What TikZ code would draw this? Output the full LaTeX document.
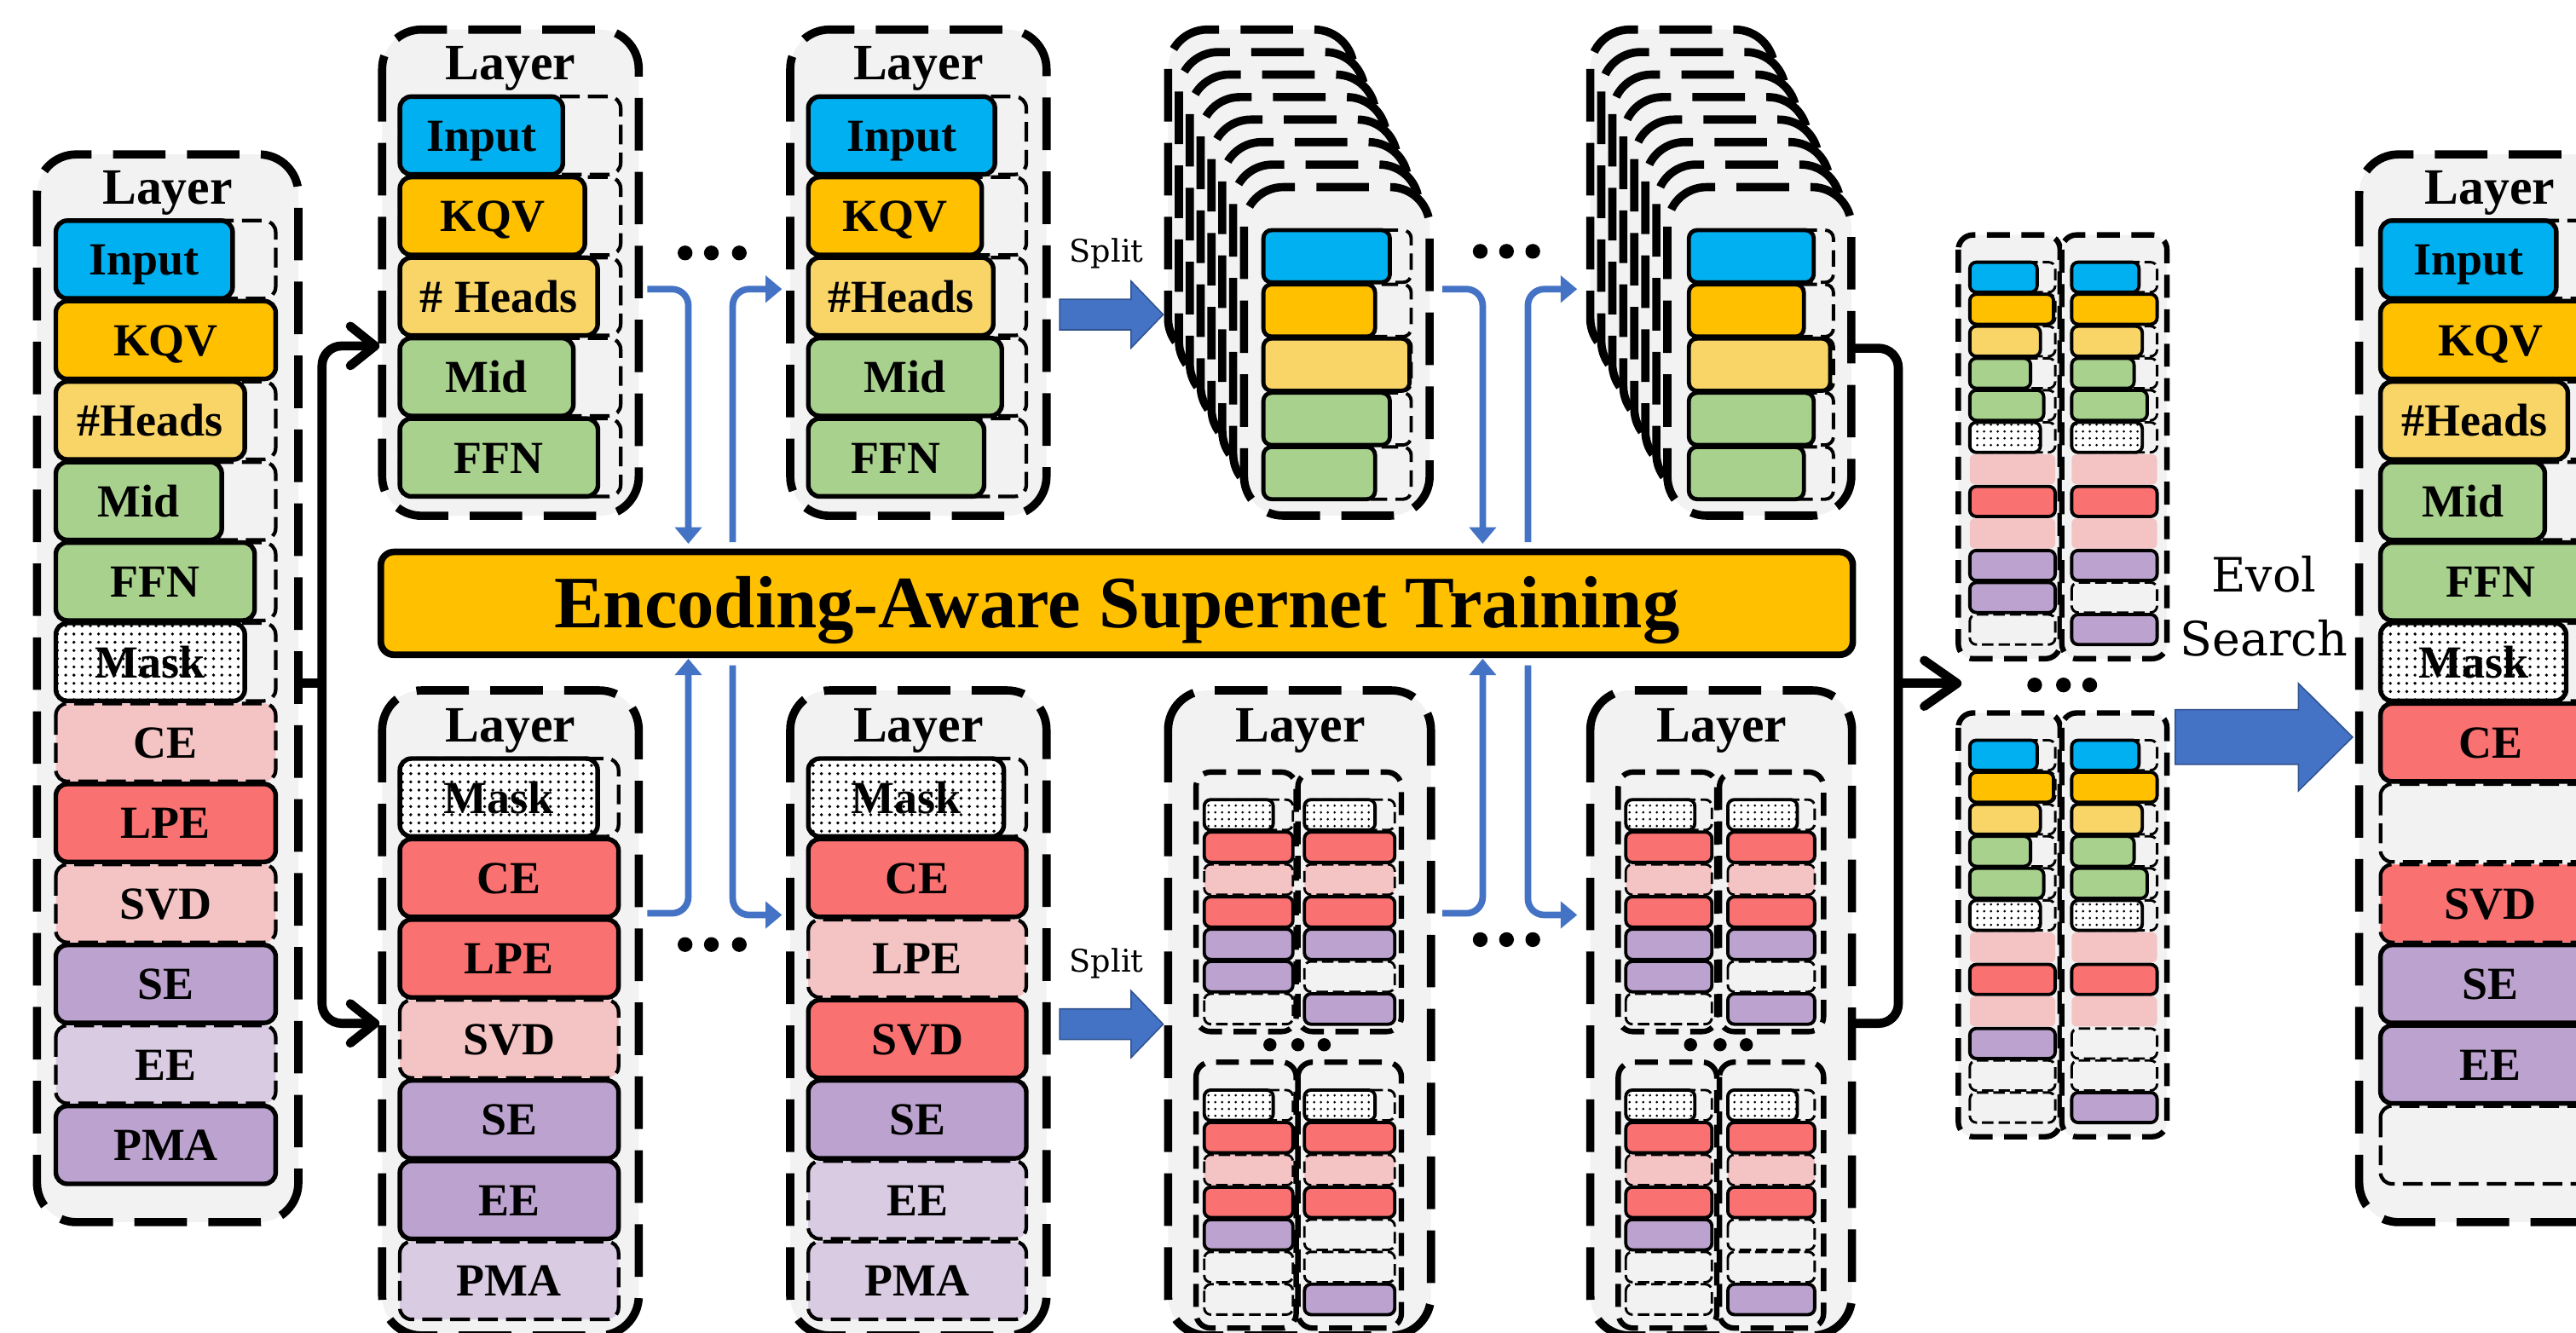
\documentclass[tikz,border=0pt]{standalone}
\usepackage{fontspec}
\setmainfont{Liberation Serif}
\newfontfamily\slabfont{DejaVu Serif}
\usetikzlibrary{arrows.meta,patterns.meta}
\definecolor{cBlue}{HTML}{00B0F0}
\definecolor{cOrange}{HTML}{FFC000}
\definecolor{cYellow}{HTML}{F9D567}
\definecolor{cGreen}{HTML}{A9D18E}
\definecolor{cRed}{HTML}{FA7171}
\definecolor{cPink}{HTML}{F4C3C3}
\definecolor{cPurple}{HTML}{BCA3CF}
\definecolor{cLav}{HTML}{D9CBE2}
\definecolor{cBg}{HTML}{F2F2F2}
\definecolor{cArrow}{HTML}{4472C4}
\definecolor{cArrowD}{HTML}{2F528F}
\tikzset{
  outer/.style={draw, fill=cBg, line width=5pt, dash pattern=on 32pt off 13pt, rounded corners=24pt},
  slot/.style={draw, line width=2.2pt, dash pattern=on 12pt off 5pt, rounded corners=7pt},
  sol/.style={draw, line width=2.8pt, rounded corners=7pt, fill=#1},
  dsh/.style={draw, line width=2.2pt, dash pattern=on 12pt off 5pt, rounded corners=7pt, fill=#1},
  dotb/.style={draw, line width=2.8pt, rounded corners=7pt, preaction={fill=white}, pattern={Dots[distance=5pt, radius=1pt]}},
  fsol/.style={draw, line width=2.5pt, rounded corners=5pt, fill=#1},
  fslot/.style={draw, line width=2pt, dash pattern=on 10pt off 5pt, rounded corners=5pt},
  msol/.style={draw, line width=2pt, rounded corners=4pt, fill=#1},
  mdsh/.style={draw, line width=1.4pt, dash pattern=on 7pt off 3pt, rounded corners=4pt, fill=#1},
  mslot/.style={draw, line width=1.5pt, dash pattern=on 7pt off 3pt, rounded corners=4pt},
  mdot/.style={draw, line width=2pt, rounded corners=4pt, preaction={fill=white}, pattern={Dots[distance=4pt, radius=0.8pt]}},
  mpink/.style={fill=cPink, rounded corners=3pt},
  grp/.style={draw, line width=3.3pt, dash pattern=on 14pt off 7pt, rounded corners=9pt},
  lbl/.style={anchor=base, inner sep=0pt, font=\bfseries\fontsize{28}{30}\selectfont},
  ttl/.style={anchor=base, inner sep=0pt, font=\bfseries\fontsize{31}{33}\selectfont},
  blk/.style={draw=black, line width=5.5pt},
  barrow/.style={draw=cArrow, line width=4pt, rounded corners=10pt, -{Triangle[length=10pt,width=16pt]}},
  bigarrow/.style={fill=cArrow, draw=cArrowD, line width=0.8pt},
}
\newcommand{\BigBlk}[6]{%
  \path[#5] (#2,#4+0.8) rectangle (#3,#4+48.2);
  \node[lbl] (#1) at ({(#2+#3)/2},#4+34) {#6};}
\newcommand{\BigSlot}[3]{\path[slot] (#1,#3+0.8) rectangle (#2,#3+48.2);}
\newcommand{\RowBlk}[6]{\path[#6] (#1,{#3+#4*#5+0.6}) rectangle (#2,{#3+#4*(#5+1)-0.6});}
\newcommand{\MiniCol}[7]{%
 \RowBlk{#1}{#2}{#4}{19.7}{0}{mslot}\RowBlk{#1}{#3}{#4}{19.7}{0}{mdot}%
 \RowBlk{#1}{#2}{#4}{19.7}{1}{msol=cRed}%
 \RowBlk{#1}{#2}{#4}{19.7}{2}{mdsh=cPink}%
 \RowBlk{#1}{#2}{#4}{19.7}{3}{msol=cRed}%
 \RowBlk{#1}{#2}{#4}{19.7}{4}{#5}%
 \RowBlk{#1}{#2}{#4}{19.7}{5}{#6}%
 \RowBlk{#1}{#2}{#4}{19.7}{6}{#7}}
\newcommand{\RColA}[9]{%
 \RowBlk{#1}{#2}{#3}{19.5}{0}{mslot}\RowBlk{#1}{#4}{#3}{19.5}{0}{msol=cBlue}%
 \RowBlk{#1}{#2}{#3}{19.5}{1}{mslot}\RowBlk{#1}{#5}{#3}{19.5}{1}{msol=cOrange}%
 \RowBlk{#1}{#2}{#3}{19.5}{2}{mslot}\RowBlk{#1}{#6}{#3}{19.5}{2}{msol=cYellow}%
 \RowBlk{#1}{#2}{#3}{19.5}{3}{mslot}\RowBlk{#1}{#7}{#3}{19.5}{3}{msol=cGreen}%
 \RowBlk{#1}{#2}{#3}{19.5}{4}{mslot}\RowBlk{#1}{#8}{#3}{19.5}{4}{msol=cGreen}%
 \RowBlk{#1}{#2}{#3}{19.5}{5}{mslot}\RowBlk{#1}{#9}{#3}{19.5}{5}{mdot}%
 \RowBlk{#1}{#2}{#3}{19.5}{6}{mpink}%
 \RowBlk{#1}{#2}{#3}{19.5}{7}{msol=cRed}%
 \RowBlk{#1}{#2}{#3}{19.5}{8}{mpink}}
\begin{document}
\begin{tikzpicture}[x=1pt,y=-1pt]
\useasboundingbox (0,0) rectangle (1568,811);
\clip (0,0) rectangle (1568,811);
\fill[white] (0,0) rectangle (1568,811);

% ---------------- L0 ----------------
\path[outer] (22.5,94) rectangle (181.6,744);
\node[ttl] (l0t) at (102,124.5) {Layer};
\BigSlot{34}{167.8}{133.5}\BigBlk{l0in}{34}{141.6}{133.5}{sol=cBlue}{Input}
\BigBlk{l0kqv}{34}{167.8}{182.5}{sol=cOrange}{KQV}
\BigSlot{34}{167.8}{231.5}\BigBlk{l0hd}{34}{149}{231.5}{sol=cYellow}{\#Heads}
\BigSlot{34}{167.8}{280.5}\BigBlk{l0mid}{34}{135}{280.5}{sol=cGreen}{Mid}
\BigSlot{34}{167.8}{329.5}\BigBlk{l0ffn}{34}{155}{329.5}{sol=cGreen}{FFN}
\BigSlot{34}{167.8}{378.5}\BigBlk{l0msk}{34}{149}{378.5}{dotb}{Mask}
\BigBlk{l0ce}{34}{167.8}{427.5}{dsh=cPink}{CE}
\BigBlk{l0lpe}{34}{167.8}{476.5}{sol=cRed}{LPE}
\BigBlk{l0svd}{34}{167.8}{525.5}{dsh=cPink}{SVD}
\BigBlk{l0se}{34}{167.8}{574.5}{sol=cPurple}{SE}
\BigBlk{l0ee}{34}{167.8}{623.5}{dsh=cLav}{EE}
\BigBlk{l0pma}{34}{167.8}{672.5}{sol=cPurple}{PMA}

% ---------------- T1 ----------------
\path[outer] (232.6,18) rectangle (388.8,314);
\node[ttl] (t1t) at (310.7,48.5) {Layer};
\BigSlot{243.4}{377.8}{58}\BigBlk{t1in}{243.4}{342.6}{58}{sol=cBlue}{Input}
\BigSlot{243.4}{377.8}{107}\BigBlk{t1kqv}{243.4}{356}{107}{sol=cOrange}{KQV}
\BigSlot{243.4}{377.8}{156}\BigBlk{t1hd}{243.4}{363.8}{156}{sol=cYellow}{\# Heads}
\BigSlot{243.4}{377.8}{205}\BigBlk{t1mid}{243.4}{349}{205}{sol=cGreen}{Mid}
\BigSlot{243.4}{377.8}{254}\BigBlk{t1ffn}{243.4}{364}{254}{sol=cGreen}{FFN}

% ---------------- T2 ----------------
\path[outer] (481,18) rectangle (637,314);
\node[ttl] (t2t) at (559,48.5) {Layer};
\BigSlot{492}{624.7}{58}\BigBlk{t2in}{492}{605.6}{58}{sol=cBlue}{Input}
\BigSlot{492}{624.7}{107}\BigBlk{t2kqv}{492}{597.6}{107}{sol=cOrange}{KQV}
\BigSlot{492}{624.7}{156}\BigBlk{t2hd}{492}{604.6}{156}{sol=cYellow}{\#Heads}
\BigSlot{492}{624.7}{205}\BigBlk{t2mid}{492}{609.8}{205}{sol=cGreen}{Mid}
\BigSlot{492}{624.7}{254}\BigBlk{t2ffn}{492}{599}{254}{sol=cGreen}{FFN}

% ---------------- B1 ----------------
\path[outer] (232.6,420.3) rectangle (388.8,813);
\node[ttl] (b1t) at (310.7,451.5) {Layer};
\BigSlot{243.4}{376.5}{461}\BigBlk{b1msk}{243.4}{363.8}{461}{dotb}{Mask}
\BigBlk{b1ce}{243.4}{376.5}{510}{sol=cRed}{CE}
\BigBlk{b1lpe}{243.4}{376.5}{559}{sol=cRed}{LPE}
\BigBlk{b1svd}{243.4}{376.5}{608}{dsh=cPink}{SVD}
\BigBlk{b1se}{243.4}{376.5}{657}{sol=cPurple}{SE}
\BigBlk{b1ee}{243.4}{376.5}{706}{sol=cPurple}{EE}
\BigBlk{b1pma}{243.4}{376.5}{755}{dsh=cLav}{PMA}

% ---------------- B2 ----------------
\path[outer] (481,420.3) rectangle (637,813);
\node[ttl] (b2t) at (559,451.5) {Layer};
\BigSlot{492}{624.7}{461}\BigBlk{b2msk}{492}{611}{461}{dotb}{Mask}
\BigBlk{b2ce}{492}{624.7}{510}{sol=cRed}{CE}
\BigBlk{b2lpe}{492}{624.7}{559}{dsh=cPink}{LPE}
\BigBlk{b2svd}{492}{624.7}{608}{sol=cRed}{SVD}
\BigBlk{b2se}{492}{624.7}{657}{sol=cPurple}{SE}
\BigBlk{b2ee}{492}{624.7}{706}{dsh=cLav}{EE}
\BigBlk{b2pma}{492}{624.7}{755}{dsh=cLav}{PMA}

% ---------------- S1 stacked ----------------
\foreach \i in {0,...,7} {\path[outer] ({711+6.6*\i},{18+13.7*\i}) rectangle ++(113,200);}
\RowBlk{769}{859}{139.5}{33}{0}{fslot}\RowBlk{769}{846}{139.5}{33}{0}{fsol=cBlue}
\RowBlk{769}{859}{139.5}{33}{1}{fslot}\RowBlk{769}{837}{139.5}{33}{1}{fsol=cOrange}
\RowBlk{769}{859}{139.5}{33}{2}{fslot}\RowBlk{769}{858}{139.5}{33}{2}{fsol=cYellow}
\RowBlk{769}{859}{139.5}{33}{3}{fslot}\RowBlk{769}{846}{139.5}{33}{3}{fsol=cGreen}
\RowBlk{769}{859}{139.5}{33}{4}{fslot}\RowBlk{769}{837}{139.5}{33}{4}{fsol=cGreen}

% ---------------- S2 stacked ----------------
\foreach \i in {0,...,7} {\path[outer] ({968+6.7*\i},{18+13.7*\i}) rectangle ++(112,200);}
\RowBlk{1028}{1116}{139.5}{33}{0}{fslot}\RowBlk{1028}{1104}{139.5}{33}{0}{fsol=cBlue}
\RowBlk{1028}{1116}{139.5}{33}{1}{fslot}\RowBlk{1028}{1098}{139.5}{33}{1}{fsol=cOrange}
\RowBlk{1028}{1116}{139.5}{33}{2}{fslot}\RowBlk{1028}{1114}{139.5}{33}{2}{fsol=cYellow}
\RowBlk{1028}{1116}{139.5}{33}{3}{fslot}\RowBlk{1028}{1104}{139.5}{33}{3}{fsol=cGreen}
\RowBlk{1028}{1116}{139.5}{33}{4}{fslot}\RowBlk{1028}{1098}{139.5}{33}{4}{fsol=cGreen}

% ---------------- B3 ----------------
\path[outer] (711,420.3) rectangle (871,813);
\node[ttl] (b3t) at (791.5,451.5) {Layer};
\path[grp] (728,470) rectangle (789,628);
\path[grp] (790,470) rectangle (853,628);
\path[grp] (728,646.6) rectangle (789,808.5);
\path[grp] (790,646.6) rectangle (853,808.5);
\MiniCol{733}{787}{775}{486.2}{msol=cPurple}{msol=cPurple}{mslot}
\MiniCol{794}{849}{837}{486.2}{msol=cPurple}{mslot}{msol=cPurple}
\MiniCol{733}{787}{775}{663}{msol=cPurple}{mslot}{mslot}
\MiniCol{794}{849}{837}{663}{mslot}{mslot}{msol=cPurple}
\foreach \xx in {773,790,806} {\fill (\xx,636) circle (4pt);}

% ---------------- B4 ----------------
\path[outer] (968,420.3) rectangle (1127.3,813);
\node[ttl] (b4t) at (1048,451.5) {Layer};
\path[grp] (985,470) rectangle (1045,628);
\path[grp] (1046.6,470) rectangle (1110,628);
\path[grp] (985,646.6) rectangle (1045,808.5);
\path[grp] (1046.6,646.6) rectangle (1110,808.5);
\MiniCol{989.6}{1042}{1031.6}{486.2}{msol=cPurple}{msol=cPurple}{mslot}
\MiniCol{1051.7}{1104.6}{1094}{486.2}{msol=cPurple}{mslot}{msol=cPurple}
\MiniCol{989.6}{1042}{1031.6}{663}{msol=cPurple}{mslot}{mslot}
\MiniCol{1051.7}{1104.6}{1094}{663}{mslot}{mslot}{msol=cPurple}
\foreach \xx in {1029,1047,1063} {\fill (\xx,636) circle (4pt);}

% ---------------- R search candidates ----------------
\path[grp, fill=cBg] (1192,143) rectangle (1254,401);
\path[grp, fill=cBg] (1255,143) rectangle (1319,401);
\path[grp, fill=cBg] (1192,434) rectangle (1254,692);
\path[grp, fill=cBg] (1255,434) rectangle (1319,692);
\RColA{1199}{1251}{159}{1240}{1250}{1242}{1236}{1244}{1242}
\RowBlk{1199}{1251}{159}{19.5}{9}{msol=cPurple}\RowBlk{1199}{1251}{159}{19.5}{10}{msol=cPurple}\RowBlk{1199}{1251}{159}{19.5}{11}{mslot}
\RColA{1261}{1313}{159}{1302}{1313}{1304}{1299}{1307}{1304}
\RowBlk{1261}{1313}{159}{19.5}{9}{msol=cPurple}\RowBlk{1261}{1313}{159}{19.5}{10}{mslot}\RowBlk{1261}{1313}{159}{19.5}{11}{msol=cPurple}
\RColA{1199}{1251}{450}{1240}{1250}{1242}{1236}{1244}{1242}
\RowBlk{1199}{1251}{450}{19.5}{9}{msol=cPurple}\RowBlk{1199}{1251}{450}{19.5}{10}{mslot}\RowBlk{1199}{1251}{450}{19.5}{11}{mslot}
\RColA{1261}{1313}{450}{1302}{1313}{1304}{1299}{1307}{1304}
\RowBlk{1261}{1313}{450}{19.5}{9}{mslot}\RowBlk{1261}{1313}{450}{19.5}{10}{mslot}\RowBlk{1261}{1313}{450}{19.5}{11}{msol=cPurple}
\foreach \xx in {1238.5,1256,1272} {\fill (\xx,417) circle (4.5pt);}

% ---------------- RL ----------------
\path[outer] (1436,94) rectangle (1595,744);
\node[ttl] (rlt) at (1515.5,124.5) {Layer};
\BigSlot{1449}{1583}{133.5}\BigBlk{rlin}{1449}{1556}{133.5}{sol=cBlue}{Input}
\BigBlk{rlkqv}{1449}{1583}{182.5}{sol=cOrange}{KQV}
\BigSlot{1449}{1583}{231.5}\BigBlk{rlhd}{1449}{1563}{231.5}{sol=cYellow}{\#Heads}
\BigSlot{1449}{1583}{280.5}\BigBlk{rlmid}{1449}{1549}{280.5}{sol=cGreen}{Mid}
\BigBlk{rlffn}{1449}{1583}{329.5}{sol=cGreen}{FFN}
\BigSlot{1449}{1583}{378.5}\BigBlk{rlmsk}{1449}{1562}{378.5}{dotb}{Mask}
\BigBlk{rlce}{1449}{1583}{427.5}{sol=cRed}{CE}
\BigSlot{1449}{1583}{476.5}
\BigBlk{rlsvd}{1449}{1583}{525.5}{dsh=cRed}{SVD}
\BigBlk{rlse}{1449}{1583}{574.5}{sol=cPurple}{SE}
\BigBlk{rlee}{1449}{1583}{623.5}{sol=cPurple}{EE}
\BigSlot{1449}{1583}{672.5}

% ---------------- Banner ----------------
\node[draw, line width=4pt, fill=cOrange, rounded corners=8pt, minimum width=896pt, minimum height=62.6pt, inner sep=0pt] (ban) at (679.8,367.3) {};
\node[anchor=base, inner sep=0pt, font=\bfseries\fontsize{45}{48}\selectfont] (bantext) at (679.8,382.2) {Encoding-Aware Supernet Training};

% ---------------- dots ----------------
\foreach \xx in {417,433,450} {\fill (\xx,154) circle (4.5pt); \fill (\xx,575) circle (4.5pt);}
\foreach \xx in {901,917,933} {\fill (\xx,153) circle (4.5pt); \fill (\xx,572) circle (4.5pt);}

% ---------------- Split arrows & text ----------------
\node[anchor=base, inner sep=0pt, font=\slabfont\fontsize{19}{21}\selectfont] (split1) at (673.6,159.7) {Split};
\node[anchor=base, inner sep=0pt, font=\slabfont\fontsize{19}{21}\selectfont] (split2) at (673.6,591.7) {Split};
\path[bigarrow] (645,182.2) -- (688.5,182.2) -- (688.5,171.2) -- (708,191.5) -- (688.5,211.8) -- (688.5,200.8) -- (645,200.8) -- cycle;
\path[bigarrow] (645,614.2) -- (688.5,614.2) -- (688.5,603.2) -- (708,623.5) -- (688.5,643.8) -- (688.5,632.8) -- (645,632.8) -- cycle;

% ---------------- Evol Search ----------------
\node[anchor=base, inner sep=0pt, font=\slabfont\fontsize{28.8}{31}\selectfont] (evol) at (1378,360.6) {Evol};
\node[anchor=base, inner sep=0pt, font=\slabfont\fontsize{28.8}{31}\selectfont] (search) at (1378,399.5) {Search};
\path[bigarrow] (1324,432) -- (1399,432) -- (1399,416) -- (1432,448.7) -- (1399,481.5) -- (1399,465.4) -- (1324,465.4) -- cycle;

% ---------------- black connectors ----------------
\coordinate (L0out) at (181.6,416);
\coordinate (Lfork) at (196,416);
\coordinate (T1in) at (231,210.6);
\coordinate (B1in) at (231,623);
\draw[blk] (L0out) -- (Lfork);
\draw[blk, rounded corners=12pt, -{Straight Barb[length=15pt,width=24pt,round]}] (Lfork) |- (T1in);
\draw[blk, rounded corners=12pt, -{Straight Barb[length=15pt,width=24pt,round]}] (Lfork) |- (B1in);
\coordinate (S2out) at (1127.7,212);
\coordinate (B4out) at (1127.3,623);
\coordinate (Rfork) at (1155.5,416);
\coordinate (Rin) at (1194,416);
\draw[blk, rounded corners=12pt] (S2out) -| (Rfork) |- (B4out);
\draw[blk, -{Straight Barb[length=20pt,width=28pt,round]}] (Rfork) -- (Rin);

% ---------------- blue connectors ----------------
\coordinate (T1o) at (394,176);   \coordinate (BanT1) at (419,331);
\coordinate (BanT2) at (446,330); \coordinate (T2i) at (476,176);
\coordinate (B1o) at (394,556);   \coordinate (BanB1) at (419,401);
\coordinate (BanB2) at (446,405); \coordinate (B2i) at (476,557);
\draw[barrow] (T1o) -| (BanT1);
\draw[barrow] (BanT2) |- (T2i);
\draw[barrow] (B1o) -| (BanB1);
\draw[barrow] (BanB2) |- (B2i);
\coordinate (S1o) at (878,176);   \coordinate (BanT3) at (902.5,331);
\coordinate (BanT4) at (930,330); \coordinate (S2i) at (960,176);
\coordinate (B3o) at (878,556);   \coordinate (BanB3) at (902.5,401);
\coordinate (BanB4) at (930,405); \coordinate (B4i) at (960,557);
\draw[barrow] (S1o) -| (BanT3);
\draw[barrow] (BanT4) |- (S2i);
\draw[barrow] (B3o) -| (BanB3);
\draw[barrow] (BanB4) |- (B4i);
\end{tikzpicture}
\end{document}
